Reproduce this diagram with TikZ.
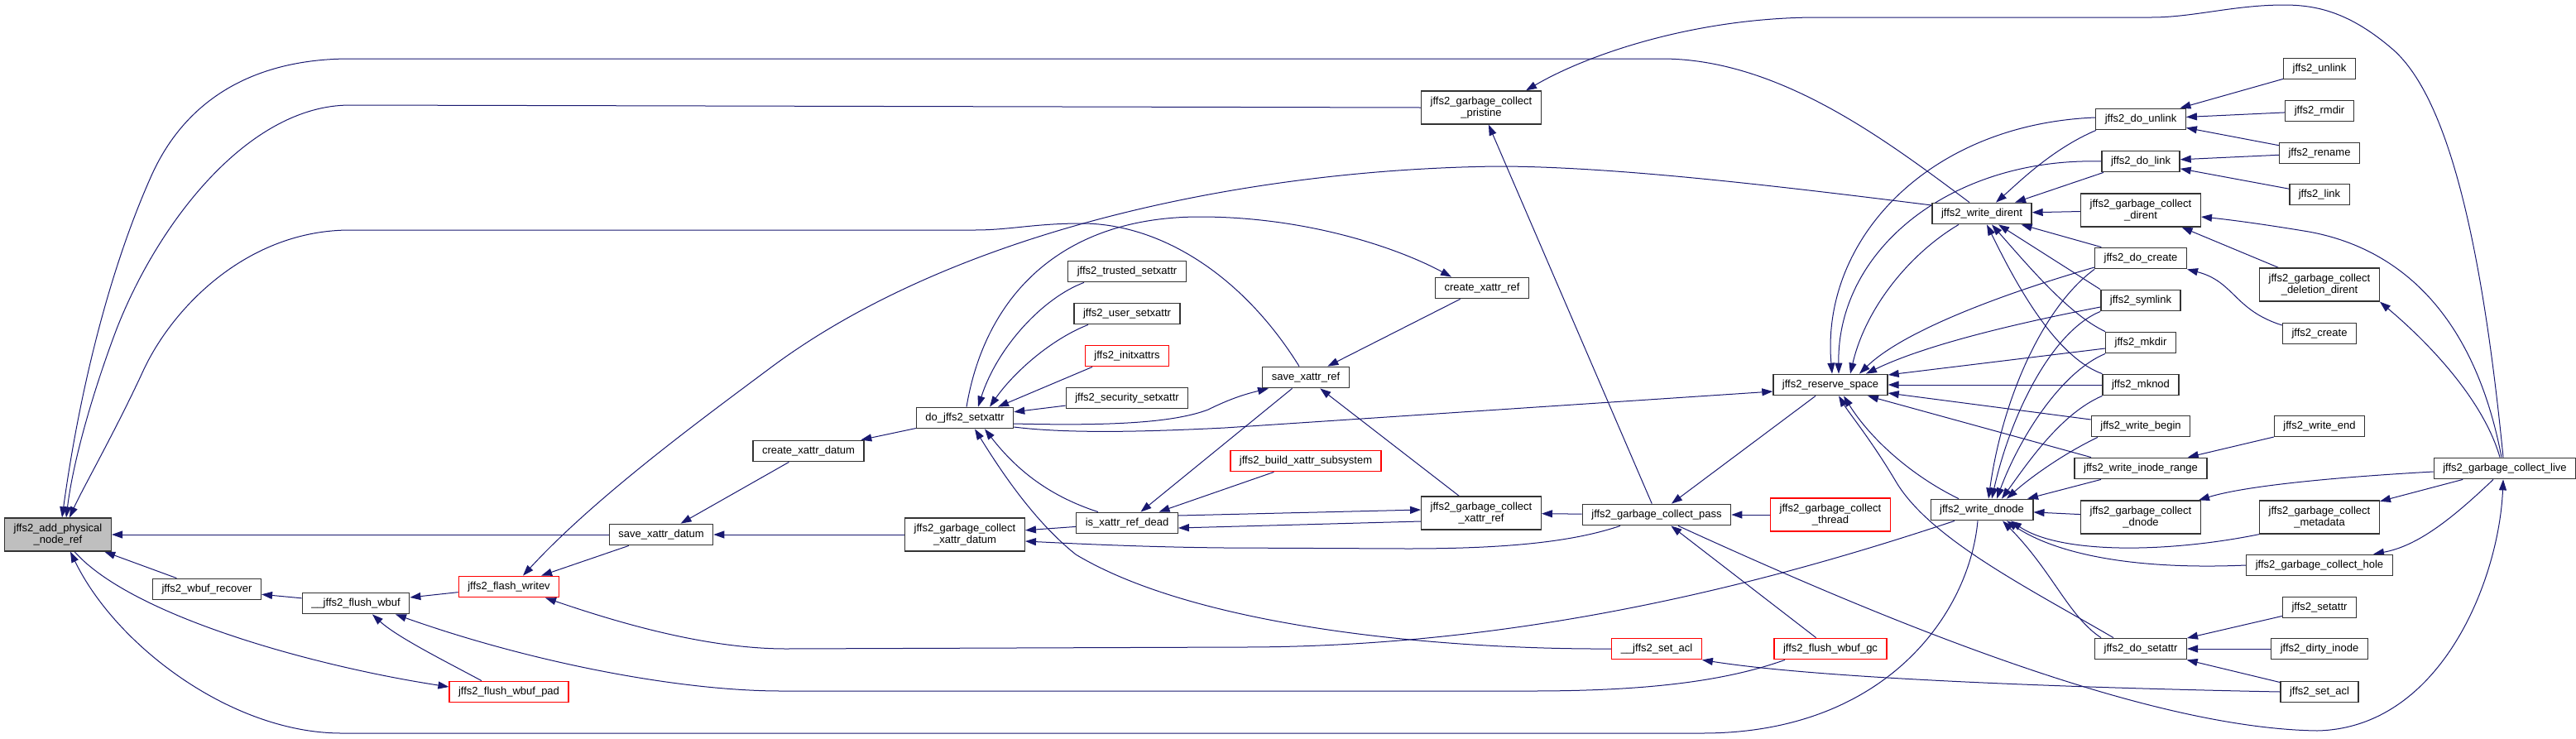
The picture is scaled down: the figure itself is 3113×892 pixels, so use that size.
\documentclass[tikz,border=0pt]{standalone}
\usepackage{fontspec}
\setmainfont{Liberation Sans}
\usetikzlibrary{arrows.meta,backgrounds}
\definecolor{edgeblue}{HTML}{191970}
\definecolor{boxgray}{HTML}{BFBFBF}

\begin{document}
\begin{tikzpicture}[x=1pt, y=-1pt,
    fn/.style={draw=black!80, line width=1.3pt, fill=white, font=\fontsize{13}{14.3}\selectfont,
        inner xsep=11pt, inner ysep=0pt, minimum height=25.5pt, align=center},
    fn two/.style={fn, minimum height=40pt},
    red fn/.style={fn, draw=red},
    red fn two/.style={fn two, draw=red},
    main fn/.style={fn two, fill=boxgray},
    call/.style={draw=edgeblue, line width=1pt, -{Triangle[length=13pt,width=9pt]}}
]
\useasboundingbox (0,0) rectangle (3113,892);

% Nodes, rank by rank
\node[main fn] (main) at (70,646) {jffs2\_add\_physical\\\_node\_ref};
\node[fn] (recover) at (250,712) {jffs2\_wbuf\_recover};
\node[fn] (flushwbuf) at (430,729) {\_\_jffs2\_flush\_wbuf};
\node[red fn] (writev) at (615,709) {jffs2\_flash\_writev};
\node[red fn] (pad) at (615,836) {jffs2\_flush\_wbuf\_pad};
\node[fn] (savedatum) at (799,646) {save\_xattr\_datum};
\node[fn] (createdatum) at (977,545) {create\_xattr\_datum};
\node[fn] (setxattr) at (1166,505) {do\_jffs2\_setxattr};
\node[fn two] (gcdatum) at (1166,646) {jffs2\_garbage\_collect\\\_xattr\_datum};
\node[fn] (trusted) at (1362,328) {jffs2\_trusted\_setxattr};
\node[fn] (user) at (1362,379) {jffs2\_user\_setxattr};
\node[red fn] (initx) at (1362,430) {jffs2\_initxattrs};
\node[fn] (security) at (1362,481) {jffs2\_security\_setxattr};
\node[fn] (refdead) at (1362,632) {is\_xattr\_ref\_dead};
\node[fn] (saveref) at (1578,456) {save\_xattr\_ref};
\node[red fn] (build) at (1578,557) {jffs2\_build\_xattr\_subsystem};
\node[fn two] (pristine) at (1790,130) {jffs2\_garbage\_collect\\\_pristine};
\node[fn] (createref) at (1791,348) {create\_xattr\_ref};
\node[fn two] (gcref) at (1790,620) {jffs2\_garbage\_collect\\\_xattr\_ref};
\node[fn] (gcpass) at (2002,622) {jffs2\_garbage\_collect\_pass};
\node[red fn] (setaclx) at (2002,784) {\_\_jffs2\_set\_acl};
\node[fn] (reserve) at (2212,465) {jffs2\_reserve\_space};
\node[red fn two] (gcthread) at (2212,622) {jffs2\_garbage\_collect\\\_thread};
\node[red fn] (wbufgc) at (2212,784) {jffs2\_flush\_wbuf\_gc};
\node[fn] (dirent) at (2395,258) {jffs2\_write\_dirent};
\node[fn] (dnode) at (2395,616) {jffs2\_write\_dnode};
\node[fn] (dounlink) at (2587,144) {jffs2\_do\_unlink};
\node[fn] (dolink) at (2587,195) {jffs2\_do\_link};
\node[fn two] (gcdirent) at (2587,254) {jffs2\_garbage\_collect\\\_dirent};
\node[fn] (docreate) at (2587,312) {jffs2\_do\_create};
\node[fn] (symlink) at (2587,363) {jffs2\_symlink};
\node[fn] (mkdir) at (2587,414) {jffs2\_mkdir};
\node[fn] (mknod) at (2587,465) {jffs2\_mknod};
\node[fn] (wbegin) at (2587,515) {jffs2\_write\_begin};
\node[fn] (wrange) at (2587,566) {jffs2\_write\_inode\_range};
\node[fn two] (gcdnode) at (2587,625) {jffs2\_garbage\_collect\\\_dnode};
\node[fn] (dosetattr) at (2587,784) {jffs2\_do\_setattr};
\node[fn] (unlink) at (2803,83) {jffs2\_unlink};
\node[fn] (rmdir) at (2803,134) {jffs2\_rmdir};
\node[fn] (rename) at (2803,185) {jffs2\_rename};
\node[fn] (link) at (2803,235) {jffs2\_link};
\node[fn two] (deldirent) at (2803,344) {jffs2\_garbage\_collect\\\_deletion\_dirent};
\node[fn] (create) at (2803,403) {jffs2\_create};
\node[fn] (wend) at (2803,515) {jffs2\_write\_end};
\node[fn two] (gcmeta) at (2803,625) {jffs2\_garbage\_collect\\\_metadata};
\node[fn] (gchole) at (2803,683) {jffs2\_garbage\_collect\_hole};
\node[fn] (setattr) at (2803,734) {jffs2\_setattr};
\node[fn] (dirty) at (2803,784) {jffs2\_dirty\_inode};
\node[fn] (setacl) at (2803,836) {jffs2\_set\_acl};
\node[fn] (gclive) at (3027,566) {jffs2\_garbage\_collect\_live};

\begin{pgfonlayer}{background}
% Calls into jffs2_add_physical_node_ref
\draw[call] (savedatum) -- (main);
\draw[call] (recover) -- (main);
\draw[call] ([xshift=-15pt]dirent.north) .. controls (2280,170) and (2150,71) .. (2008,71) -- (423,71)
    .. controls (320,71) and (230,110) .. (184,210) .. controls (130,330) and (95,480) .. ([xshift=5pt]main.north);
\draw[call] (pristine.west) -- (423,127) .. controls (300,127) and (190,270) .. (140,400)
    .. controls (110,480) and (88,560) .. ([xshift=10pt]main.north);
\draw[call] ([xshift=-8pt]saveref.north) .. controls (1500,330) and (1400,270) .. (1307,270)
    .. controls (1250,270) and (1220,278) .. (1178,278) -- (423,278)
    .. controls (300,278) and (210,370) .. (174,446) .. controls (140,520) and (100,590) .. ([xshift=14pt]main.north);
\draw[call] ([xshift=-5pt]dnode.south) .. controls (2380,740) and (2280,886) .. (2057,886) -- (413,886)
    .. controls (280,886) and (140,780) .. ([xshift=15pt]main.south);
\draw[call] ([xshift=20pt]main.south) .. controls (160,745) and (380,805) .. ([yshift=6pt]pad.west);

% Write buffer
\draw[call] (flushwbuf) -- (recover);
\draw[call] (writev) -- (flushwbuf);
\draw[call] ([xshift=-33pt]pad.north) .. controls (540,800) and (480,770) .. ([xshift=20pt]flushwbuf.south);
\draw[call] (savedatum) -- (writev);
\draw[call] ([yshift=10pt]dirent.west) .. controls (2150,225) and (1950,201) .. (1809,201)
    .. controls (1500,205) and (1150,280) .. (929,446) .. controls (850,505) and (720,600) .. ([xshift=17pt]writev.north);
\draw[call] ([xshift=-33pt]dnode.south) .. controls (2150,700) and (1850,782) .. (1500,782) -- (950,784)
    .. controls (850,784) and (740,750) .. ([xshift=44pt]writev.south);
\draw[call] ([xshift=-55pt]wbufgc.south) .. controls (2080,825) and (1980,835) .. (1850,835) -- (944,835)
    .. controls (820,835) and (640,800) .. ([xshift=48pt]flushwbuf.south);

% Extended attributes
\draw[call] (createdatum) -- (savedatum);
\draw[call] (gcdatum) -- (savedatum);
\draw[call] (setxattr) -- (createdatum);
\draw[call] (security) -- (setxattr);
\draw[call] ([xshift=-52pt]trusted.south) .. controls (1260,360) and (1205,420) .. ([xshift=16pt]setxattr.north);
\draw[call] ([xshift=-47pt]user.south) .. controls (1270,410) and (1225,450) .. ([xshift=30pt]setxattr.north);
\draw[call] ([xshift=-42pt]initx.south) -- ([xshift=40pt]setxattr.north);
\draw[call] ([xshift=2pt]setxattr.north) .. controls (1190,360) and (1280,262) .. (1450,262)
    .. controls (1580,262) and (1690,300) .. ([xshift=-37pt]createref.north);
\draw[call] ([yshift=-7pt]setxattr.east) .. controls (1350,515) and (1420,510) .. (1460,495)
    .. controls (1490,480) and (1510,475) .. ([xshift=-45pt]saveref.south);
\draw[call] ([yshift=-11pt]setxattr.east) .. controls (1290,524) and (1380,522) .. (1480,517) -- ([yshift=-8pt]reserve.west);
\draw[call] ([xshift=-35pt]refdead.north) .. controls (1270,600) and (1230,570) .. ([xshift=24pt]setxattr.south);
\draw[call] (setaclx.west) .. controls (1750,785) and (1450,760) .. (1300,670)
    .. controls (1250,630) and (1210,570) .. ([xshift=12pt]setxattr.south);
\draw[call] (refdead) -- (gcdatum);
\draw[call] ([xshift=-44pt]gcpass.south) .. controls (1900,655) and (1820,663) .. (1700,663) -- (1480,662)
    .. controls (1380,661) and (1300,657) .. ([yshift=-8pt]gcdatum.east);
\draw[call] (saveref) -- (refdead);
\draw[call] (build) -- (refdead);
\draw[call] ([yshift=-10pt]gcref.west) -- ([yshift=-6pt]refdead.east);
\draw[call] ([yshift=9pt]refdead.east) -- ([yshift=4pt]gcref.west);
\draw[call] (gcref) -- (saveref);
\draw[call] (createref) -- (saveref);

% Garbage collector
\draw[call] (gcpass) -- (gcref);
\draw[call] (gcpass) -- (pristine);
\draw[call] ([xshift=-2pt]gclive.north) .. controls (3000,300) and (2960,120) .. (2892,60)
    .. controls (2840,15) and (2800,6) .. (2760,6) .. controls (2700,6) and (2650,21) .. (2600,21) -- (2197,21)
    .. controls (2050,21) and (1920,65) .. ([xshift=54pt]pristine.north);
\draw[call] (reserve) -- (gcpass);
\draw[call] (gcthread) -- (gcpass);
\draw[call] (wbufgc) -- (gcpass);
\draw[call] ([xshift=26pt]gcpass.south) .. controls (2300,760) and (2600,880) .. (2800,883)
    .. controls (2950,880) and (3020,700) .. ([xshift=-2pt]gclive.south);
\draw[call] (setacl.west) .. controls (2500,831) and (2200,820) .. (setaclx.south east);

% Callers of jffs2_reserve_space
\draw[call] ([xshift=-33pt]dosetattr.north) .. controls (2450,710) and (2330,650) .. (2290,580)
    .. controls (2260,530) and (2235,500) .. ([xshift=10pt]reserve.south);
\draw[call] ([xshift=-28pt]dnode.north) .. controls (2310,575) and (2260,530) .. ([xshift=16pt]reserve.south);
\draw[call] ([xshift=-60pt]wrange.north) -- ([xshift=45pt]reserve.south);
\draw[call] ([yshift=8pt]wbegin.west) -- ([yshift=-10pt]reserve.east);
\draw[call] (mknod) -- (reserve);
\draw[call] ([yshift=-7pt]mkdir.west) -- ([yshift=12pt]reserve.east);
\draw[call] ([yshift=-8pt]symlink.west) .. controls (2450,388) and (2330,415) .. ([xshift=43pt]reserve.north);
\draw[call] ([yshift=-11pt]docreate.west) .. controls (2420,355) and (2300,400) .. ([xshift=35pt]reserve.north);
\draw[call] ([xshift=-28pt]dirent.south) .. controls (2310,305) and (2255,370) .. ([xshift=24pt]reserve.north);
\draw[call] (dolink.west) .. controls (2360,190) and (2220,300) .. ([xshift=10pt]reserve.north);
\draw[call] ([yshift=2pt]dounlink.west) .. controls (2330,150) and (2200,290) .. ([xshift=2pt]reserve.north);

% Callers of jffs2_write_dirent
\draw[call] ([xshift=-54pt]dounlink.south) .. controls (2480,180) and (2440,220) .. ([xshift=17pt]dirent.north);
\draw[call] ([xshift=-45pt]dolink.south) -- ([xshift=40pt]dirent.north);
\draw[call] (gcdirent) -- (dirent);
\draw[call] (docreate) -- (dirent);
\draw[call] ([xshift=-49pt]symlink.north) -- ([xshift=20pt]dirent.south);
\draw[call] (mkdir.north west) .. controls (2500,380) and (2450,320) .. ([xshift=12pt]dirent.south);
\draw[call] (mknod.north west) .. controls (2480,430) and (2430,330) .. ([xshift=6pt]dirent.south);

% Callers of jffs2_write_dnode
\draw[call] (docreate.south west) .. controls (2470,370) and (2420,480) .. ([xshift=8pt]dnode.north);
\draw[call] (symlink.south west) .. controls (2480,400) and (2430,500) .. ([xshift=12pt]dnode.north);
\draw[call] (mkdir.south west) .. controls (2490,450) and (2440,530) .. ([xshift=18pt]dnode.north);
\draw[call] (mknod.south west) .. controls (2490,500) and (2450,560) .. ([xshift=24pt]dnode.north);
\draw[call] ([xshift=-52pt]wbegin.south) .. controls (2490,550) and (2450,580) .. ([xshift=30pt]dnode.north);
\draw[call] ([xshift=-48pt]wrange.south) -- ([xshift=55pt]dnode.north);
\draw[call] (gcdnode) -- (dnode);
\draw[call] (gcmeta.south west) .. controls (2620,668) and (2490,670) .. ([xshift=35pt]dnode.south);
\draw[call] (gchole.west) .. controls (2550,690) and (2470,660) .. ([xshift=30pt]dnode.south);
\draw[call] ([xshift=-48pt]dosetattr.north) .. controls (2500,745) and (2480,690) .. ([xshift=25pt]dnode.south);

% Outer callers
\draw[call] (unlink) -- (dounlink);
\draw[call] (rmdir) -- (dounlink);
\draw[call] (rename) -- (dounlink);
\draw[call] (rename) -- (dolink);
\draw[call] (link) -- (dolink);
\draw[call] (deldirent) -- (gcdirent);
\draw[call] ([yshift=10pt]create.west) .. controls (2700,375) and (2700,340) .. (docreate.south east);
\draw[call] ([xshift=-4pt]gclive.north) .. controls (2990,380) and (2900,300) .. (2790,280)
    .. controls (2730,270) and (2690,265) .. ([yshift=-8pt]gcdirent.east);
\draw[call] ([xshift=-6pt]gclive.north) .. controls (3000,480) and (2930,410) .. (deldirent.south east);
\draw[call] (wend) -- (wrange);
\draw[call] ([yshift=-4pt]gclive.west) .. controls (2850,575) and (2720,585) .. ([xshift=70pt]gcdnode.north);
\draw[call] (gclive) -- (gcmeta);
\draw[call] ([xshift=-14pt]gclive.south) .. controls (2960,630) and (2920,660) .. ([xshift=65pt]gchole.north);
\draw[call] (setattr) -- (dosetattr);
\draw[call] (dirty) -- (dosetattr);
\draw[call] (setacl) -- (dosetattr);
\end{pgfonlayer}

\end{tikzpicture}
\end{document}
